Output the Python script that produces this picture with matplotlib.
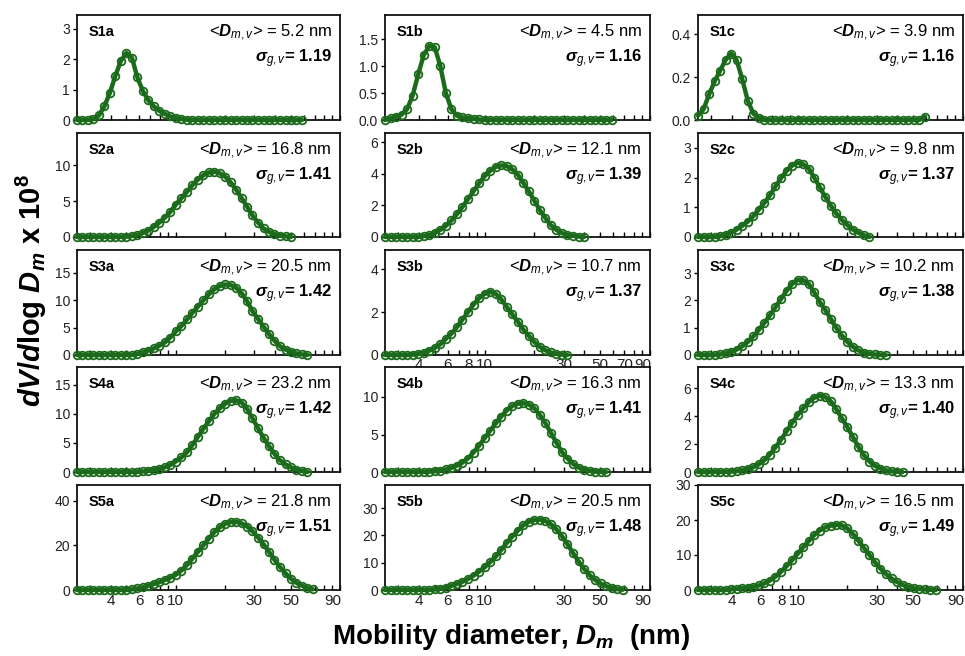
import matplotlib
matplotlib.use("Agg")
import matplotlib.pyplot as plt
import numpy as np

plt.rcParams["font.family"] = ["Liberation Sans", "DejaVu Sans"]
plt.rcParams["mathtext.fontset"] = "custom"
plt.rcParams["mathtext.rm"] = "Liberation Sans"
plt.rcParams["mathtext.it"] = "Liberation Sans:italic"
plt.rcParams["mathtext.bf"] = "Liberation Sans:bold"
plt.rcParams["mathtext.bfit"] = "Liberation Sans:bold:italic"

# ---------------- data ----------------
diam = [2.50, 2.70, 2.92, 3.15, 3.40, 3.67, 3.97, 4.28, 4.63, 5.00, 5.40, 5.83, 6.30, 6.80,
        7.34, 7.93, 8.57, 9.25, 9.99, 10.8, 11.7, 12.6, 13.6, 14.7, 15.9, 17.1, 18.5, 20.0,
        21.6, 23.3, 25.2, 27.2, 29.3, 31.7, 34.2, 37.0, 39.9, 43.1, 46.6, 50.3, 54.3, 58.7,
        63.3, 68.4]

s1a = [0, 0, 0, 0.03, 0.15, 0.45, 0.9, 1.45, 1.95, 2.2, 2.05, 1.4, 0.95, 0.65, 0.45, 0.3,
       0.2, 0.12, 0.06, 0.03, 0.01, 0, 0, 0, 0, 0, 0, 0, 0, 0, 0, 0, 0, 0, 0, 0, 0, 0, 0, 0, 0, 0]
s1b = [0, 0.03, 0.06, 0.1, 0.2, 0.45, 0.85, 1.2, 1.38, 1.35, 1.0, 0.5, 0.2, 0.08, 0.05, 0.03,
       0.02, 0.01, 0, 0, 0, 0, 0, 0, 0, 0, 0, 0, 0, 0, 0, 0, 0, 0, 0, 0, 0, 0, 0, 0, 0, 0]
s1c = [0.02, 0.05, 0.12, 0.18, 0.23, 0.28, 0.31, 0.28, 0.19, 0.09, 0.03, 0.01, 0, 0, 0, 0,
       0, 0, 0, 0, 0, 0, 0, 0, 0, 0, 0, 0, 0, 0, 0, 0, 0, 0, 0, 0, 0, 0, 0, 0, 0, 0.015]
s2a = [0, 0, 0, 0, 0, 0, 0, 0, 0, 0.05, 0.15, 0.3, 0.55, 0.9, 1.4, 2.0, 2.7, 3.5, 4.5, 5.4,
       6.3, 7.2, 8.0, 8.6, 9.0, 9.1, 8.9, 8.4, 7.6, 6.6, 5.4, 4.2, 3.0, 2.0, 1.2, 0.7, 0.4,
       0.2, 0.1, 0.0]
s2b = [0, 0, 0, 0, 0, 0, 0, 0.05, 0.12, 0.25, 0.45, 0.7, 1.05, 1.45, 1.9, 2.4, 2.9, 3.4,
       3.85, 4.2, 4.45, 4.55, 4.5, 4.3, 3.95, 3.45, 2.9, 2.3, 1.7, 1.2, 0.75, 0.45, 0.25,
       0.15, 0.08, 0.03, 0]
s2c = [0, 0, 0, 0, 0.03, 0.08, 0.15, 0.25, 0.38, 0.52, 0.7, 0.92, 1.15, 1.4, 1.7, 1.98,
       2.22, 2.4, 2.5, 2.45, 2.3, 2.0, 1.68, 1.35, 1.05, 0.8, 0.58, 0.4, 0.25, 0.14, 0.06, 0]
s3a = [0, 0, 0, 0, 0, 0, 0, 0, 0, 0, 0, 0.2, 0.5, 0.8, 1.2, 1.7, 2.3, 3.2, 4.3, 5.3, 6.5,
       7.7, 8.8, 10.0, 11.1, 12.0, 12.6, 12.9, 12.8, 12.3, 11.3, 9.8, 8.0, 6.6, 5.2, 3.8,
       2.6, 1.6, 1.0, 0.6, 0.3, 0.1, 0]
s3b = [0, 0, 0, 0, 0, 0.02, 0.05, 0.1, 0.2, 0.33, 0.5, 0.75, 1.0, 1.3, 1.65, 2.0, 2.35,
       2.65, 2.85, 2.95, 2.85, 2.6, 2.25, 1.9, 1.55, 1.2, 0.9, 0.6, 0.38, 0.22, 0.12, 0.05,
       0.02, 0]
s3c = [0, 0, 0, 0, 0.02, 0.06, 0.12, 0.2, 0.32, 0.48, 0.68, 0.92, 1.18, 1.45, 1.75, 2.05,
       2.35, 2.6, 2.75, 2.75, 2.6, 2.3, 1.95, 1.65, 1.32, 1.0, 0.72, 0.48, 0.3, 0.17, 0.09,
       0.04, 0.02, 0, 0]
s4a = [0, 0, 0, 0, 0, 0, 0, 0, 0, 0, 0, 0, 0.1, 0.2, 0.35, 0.55, 0.8, 1.2, 1.8, 2.5, 3.4,
       4.6, 6.0, 7.4, 8.7, 9.9, 10.9, 11.7, 12.2, 12.3, 11.9, 10.8, 9.2, 7.5, 5.9, 4.4, 3.1,
       2.0, 1.3, 0.8, 0.4, 0.15, 0]
s4b = [0, 0, 0, 0, 0, 0, 0, 0, 0.05, 0.1, 0.2, 0.35, 0.55, 0.85, 1.25, 1.8, 2.6, 3.5, 4.5,
       5.5, 6.5, 7.4, 8.2, 8.8, 9.1, 9.2, 9.0, 8.5, 7.6, 6.5, 5.2, 3.9, 2.7, 1.8, 1.1, 0.6,
       0.3, 0.15, 0.05, 0, 0]
s4c = [0, 0, 0, 0, 0, 0, 0.03, 0.06, 0.12, 0.2, 0.35, 0.55, 0.85, 1.25, 1.75, 2.3, 2.9,
       3.5, 4.05, 4.55, 5.0, 5.3, 5.45, 5.35, 5.05, 4.5, 3.85, 3.2, 2.5, 1.8, 1.2, 0.75,
       0.45, 0.25, 0.12, 0.05, 0.02, 0]
s5a = [0, 0, 0, 0, 0, 0, 0, 0, 0, 0, 0.3, 0.7, 1.2, 1.9, 2.7, 3.5, 4.5, 5.5, 6.8, 8.7, 11.2,
       14.0, 17.0, 20.0, 23.0, 25.8, 28.0, 29.6, 30.4, 30.5, 29.8, 28.4, 26.3, 23.5, 20.5,
       17.0, 13.5, 10.3, 7.5, 5.0, 3.2, 1.9, 0.9, 0.3]
s5b = [0, 0, 0, 0, 0, 0, 0, 0, 0, 0.2, 0.5, 0.9, 1.5, 2.2, 3.0, 4.0, 5.3, 6.7, 8.3, 10.2,
       12.3, 14.7, 17.2, 19.6, 21.8, 23.7, 25.0, 25.7, 25.8, 25.3, 24.1, 22.2, 19.8, 16.8,
       13.6, 10.5, 7.8, 5.5, 3.7, 2.4, 1.4, 0.7, 0.3, 0.1]
s5c = [0, 0, 0, 0, 0, 0, 0.2, 0.35, 0.5, 0.7, 0.9, 1.3, 1.9, 2.7, 3.8, 5.2, 6.8, 8.5, 10.3,
       12.2, 14.0, 15.7, 17.0, 17.9, 18.4, 18.6, 18.5, 17.6, 16.0, 14.1, 12.0, 10.0, 8.0,
       6.1, 4.6, 3.3, 2.3, 1.5, 0.9, 0.5, 0.3, 0.15, 0.05, 0]

panel_names = ["S1a", "S1b", "S1c", "S2a", "S2b", "S2c", "S3a", "S3b", "S3c",
               "S4a", "S4b", "S4c", "S5a", "S5b", "S5c"]
panel_series = [s1a, s1b, s1c, s2a, s2b, s2c, s3a, s3b, s3c, s4a, s4b, s4c, s5a, s5b, s5c]
mean_diam = ["5.2", "4.5", "3.9", "16.8", "12.1", "9.8", "20.5", "10.7", "10.2",
             "23.2", "16.3", "13.3", "21.8", "20.5", "16.5"]
sigma_g = ["1.19", "1.16", "1.16", "1.41", "1.39", "1.37", "1.42", "1.37", "1.38",
           "1.42", "1.41", "1.40", "1.51", "1.48", "1.49"]
y_top = [3.45, 1.95, 0.49, 14.5, 6.6, 3.5, 19.2, 4.9, 3.85, 18.0, 14.0, 7.5, 47.0, 38.5, 30.0]
y_ticks = [[0, 1, 2, 3], [0.0, 0.5, 1.0, 1.5], [0.0, 0.2, 0.4], [0, 5, 10], [0, 2, 4, 6],
           [0, 1, 2, 3], [0, 5, 10, 15], [0, 2, 4], [0, 1, 2, 3], [0, 5, 10, 15],
           [0, 5, 10], [0, 2, 4, 6], [0, 20, 40], [0, 10, 20, 30], [0, 10, 20, 30]]
x_ticks = [3, 4, 5, 6, 7, 8, 9, 10, 20, 30, 40, 50, 60, 70, 80, 90, 100]
x_labels_bottom = [4, 6, 8, 10, 30, 50, 90]
x_labels_s3b = [4, 6, 8, 10, 30, 50, 70, 90]

# ---------------- layout ----------------
W, H = 965, 656
fig = plt.figure(figsize=(W / 100, H / 100), dpi=100)
green = "#1c6b1c"
col_left = [77, 385, 698]
col_width = [263, 265, 265]
row_top = [15, 133, 250, 367, 485]
row_bot = [120, 237, 355, 472, 590]

for k in range(15):
    r, c = divmod(k, 3)
    ax = fig.add_axes([col_left[c] / W, 1 - row_bot[r] / H,
                       col_width[c] / W, (row_bot[r] - row_top[r]) / H])
    vals = panel_series[k]
    d = diam[:len(vals)]
    ax.plot(d, vals, "-", color=green, lw=3.2, zorder=3, clip_on=False,
            solid_capstyle="round")
    ax.plot(d, vals, "o", mfc="none", mec=green, ms=5.5, mew=1.3, zorder=4, clip_on=False)
    ax.set_xscale("log")
    ax.set_xlim(2.5, 100)
    ax.set_ylim(0, y_top[k])
    ax.set_yticks(y_ticks[k])
    if k in (1, 2):
        ax.set_yticklabels(["%.1f" % t for t in y_ticks[k]])
    else:
        ax.set_yticklabels(["%d" % t for t in y_ticks[k]])
    ax.xaxis.set_minor_locator(matplotlib.ticker.NullLocator())
    if r == 4:
        labs = [str(t) if t in x_labels_bottom else "" for t in x_ticks]
    elif k == 7:
        labs = [str(t) if t in x_labels_s3b else "" for t in x_ticks]
    else:
        labs = ["" for t in x_ticks]
    ax.set_xticks(x_ticks)
    ax.set_xticklabels(labs)
    ax.tick_params(axis="x", direction="in", length=3.5, width=1.0, labelsize=11,
                   pad=2 if k == 7 else 3, labelcolor="#222222")
    ax.tick_params(axis="y", direction="out", length=3, width=1.0, labelsize=10,
                   pad=2, labelcolor="#222222")
    for sp in ax.spines.values():
        sp.set_linewidth(1.3)
        sp.set_color("#111111")
    ax.text(0.045, 0.84, panel_names[k], transform=ax.transAxes, fontsize=10.5,
            fontweight="bold", ha="left", va="center")
    ax.text(0.97, 0.83, r"<$\mathbfit{D}_{m,v}$> = " + mean_diam[k] + " nm",
            transform=ax.transAxes, fontsize=12, ha="right", va="center")
    ax.text(0.97, 0.58, r"$\mathbfit{\sigma}_{g,v}$= " + sigma_g[k],
            transform=ax.transAxes, fontsize=12, fontweight="bold", ha="right", va="center")

fig.text(31 / W, 1 - 291 / H,
         r"$\mathbfit{dV}$/$\mathbfit{d}$log $\mathbfit{D}_{\mathbfit{m}}$ x 10$^{\mathbf{8}}$",
         rotation=90, fontsize=21, fontweight="bold", ha="center", va="center")
fig.text(511 / W, 1 - 637 / H,
         r"Mobility diameter, $\mathbfit{D}_{\mathbfit{m}}$  (nm)",
         fontsize=20, fontweight="bold", ha="center", va="center")

fig.savefig("out.png", dpi=100)
